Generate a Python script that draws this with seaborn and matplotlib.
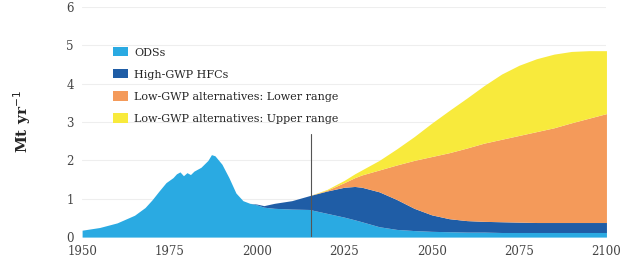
import numpy as np
import matplotlib
matplotlib.use("Agg")
import matplotlib.pyplot as plt
import seaborn as sns

years = [1950, 1955, 1960, 1965, 1968, 1970, 1972, 1974, 1976, 1977, 1978, 1979,
         1980, 1981, 1982, 1984, 1986, 1987, 1988, 1990, 1992, 1994, 1996, 1998,
         2000, 2002, 2005, 2010, 2015, 2020, 2025, 2028, 2030, 2035, 2040, 2045,
         2050, 2055, 2060, 2065, 2070, 2075, 2080, 2085, 2090, 2095, 2100]

ods = [0.18, 0.25, 0.37, 0.57, 0.77, 0.97, 1.2, 1.42, 1.55, 1.65, 1.7, 1.6,
       1.68, 1.63, 1.72, 1.82, 2.0, 2.15, 2.12, 1.9, 1.55, 1.15, 0.95, 0.88,
       0.84, 0.78, 0.75, 0.73, 0.72, 0.62, 0.52, 0.45, 0.4, 0.27, 0.2, 0.17,
       0.15, 0.14, 0.13, 0.13, 0.12, 0.12, 0.12, 0.12, 0.12, 0.12, 0.12]

hfc = [0] * 24 + [0.02, 0.04, 0.13, 0.22, 0.36, 0.58, 0.78, 0.87, 0.9, 0.91,
                  0.78, 0.58, 0.43, 0.34, 0.3, 0.28, 0.28, 0.27, 0.26, 0.26,
                  0.26, 0.26, 0.26]

low_range = [0] * 29 + [0.02, 0.12, 0.23, 0.32, 0.57, 0.9, 1.25, 1.52, 1.72,
                        1.89, 2.04, 2.15, 2.26, 2.37, 2.47, 2.6, 2.72, 2.84]

up_range = [0] * 29 + [0.02, 0.06, 0.1, 0.13, 0.25, 0.42, 0.62, 0.87, 1.1,
                       1.3, 1.5, 1.7, 1.83, 1.9, 1.92, 1.86, 1.76, 1.64]

labels = ["ODSs", "High-GWP HFCs", "Low-GWP alternatives: Lower range",
          "Low-GWP alternatives: Upper range"]
colors = ["#2aaae2", "#1f5da6", "#f49a5a", "#f8ea3c"]

xticks = [1950, 1975, 2000, 2025, 2050, 2075, 2100]
yticks = [0, 1, 2, 3, 4, 5, 6]
marker_year = 2015.5


def main():
    sns.set_style("whitegrid")
    plt.rcParams["font.family"] = ["DejaVu Serif"]

    fig = plt.figure(figsize=(6.22, 2.67), dpi=100)
    ax = fig.add_axes([0.132, 0.112, 0.843, 0.862])

    ax.stackplot(years, ods, hfc, low_range, up_range, labels=labels,
                 colors=colors, linewidth=0)
    ax.plot([marker_year, marker_year], [0, 2.7], color="#555555", lw=0.8)

    ax.set_xlim(1950, 2100)
    ax.set_ylim(0, 6)
    ax.set_xticks(xticks)
    ax.set_yticks(yticks)
    ax.tick_params(axis="both", labelsize=8.5, colors="#444444", length=0, pad=6)
    ax.grid(axis="x", visible=False)
    ax.grid(axis="y", color="#eeeeee", lw=0.8)
    ax.set_axisbelow(True)
    sns.despine(ax=ax, left=True, bottom=True)

    ax.set_ylabel("Mt yr$^{-1}$", fontsize=11, fontweight="bold", labelpad=24)

    ax.legend(loc="upper left", bbox_to_anchor=(0.05, 0.845), frameon=False,
              fontsize=8, handlelength=1.4, handleheight=0.9, labelspacing=1.05,
              handletextpad=0.5, borderaxespad=0)

    fig.savefig("out.png", dpi=100)


if __name__ == "__main__":
    main()
